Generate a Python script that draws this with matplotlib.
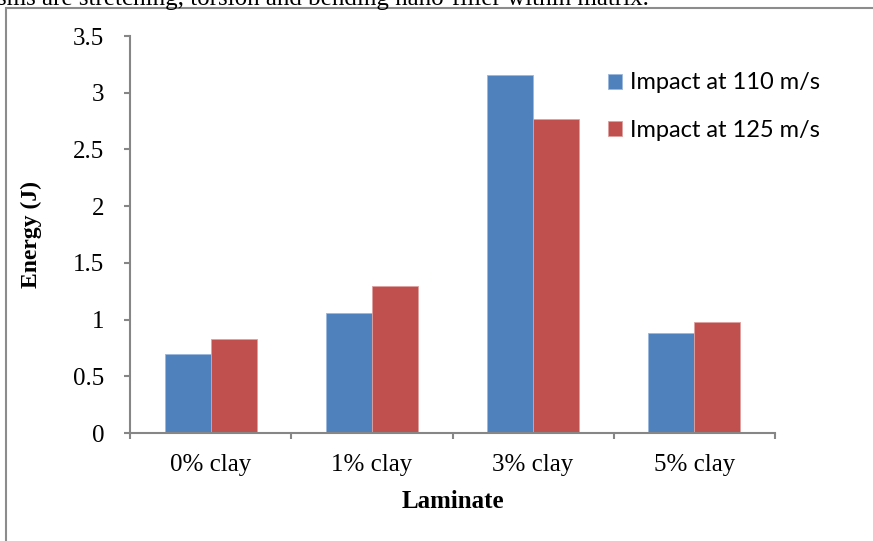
import numpy as np
import matplotlib.pyplot as plt
from matplotlib.patches import Rectangle

# Absorbed energy per laminate at the two impact velocities
laminates = ['0% clay', '1% clay', '3% clay', '5% clay']
energy_110 = [0.70, 1.06, 3.16, 0.88]
energy_125 = [0.83, 1.30, 2.77, 0.98]
y_ticks = [0, 0.5, 1, 1.5, 2, 2.5, 3, 3.5]
y_labels = ['0', '0.5', '1', '1.5', '2', '2.5', '3', '3.5']

serif = 'Liberation Serif'
axis_grey = '#868686'

fig = plt.figure(figsize=(8.73, 5.41), dpi=100)

# caption line above the chart box, cut off by the page edge
fig.text(-0.003, 1 - 5 / 541, 'sms are stretching, torsion and bending nano-filler within matrix.',
         family=serif, fontsize=18, va='baseline', ha='left')

# chart frame
fig.patches.append(Rectangle((6 / 873, -0.05), 1.1, 1 - 8 / 541 + 0.05,
                             transform=fig.transFigure, fill=False,
                             edgecolor='#8c8c8c', linewidth=1.5))

ax = fig.add_axes([130 / 873, 108 / 541, 645 / 873, 397 / 541])

x = np.arange(len(laminates))
w = 0.286
ax.bar(x - w / 2, energy_110, w, color='#4F81BD', edgecolor='#9bb7dc', linewidth=0.6,
       label='Impact at 110 m/s')
ax.bar(x + w / 2, energy_125, w, color='#C0504D', edgecolor='#e0a09e', linewidth=0.6,
       label='Impact at 125 m/s')

ax.set_xlim(-0.5, 3.5)
ax.set_ylim(0, 3.5)
ax.set_yticks(y_ticks)
ax.set_yticklabels(y_labels, family=serif, fontsize=18)
ax.set_xticks(x)
ax.set_xticklabels(laminates, family=serif, fontsize=18)
ax.tick_params(axis='x', length=0, pad=15)
ax.set_xticks(np.arange(-0.5, 4, 1), minor=True)
ax.tick_params(axis='x', which='minor', length=4.5, width=1.5, color=axis_grey)
ax.tick_params(axis='y', length=4.5, width=1.5, color=axis_grey, pad=14)

for side in ['top', 'right']:
    ax.spines[side].set_visible(False)
for side in ['left', 'bottom']:
    ax.spines[side].set_color(axis_grey)
    ax.spines[side].set_linewidth(1.5)

ax.set_xlabel('Laminate', family=serif, fontsize=18, fontweight='bold', labelpad=10)
ax.set_ylabel('Energy (J)', family=serif, fontsize=17, fontweight='bold', labelpad=22)

leg = ax.legend(loc='upper left', bbox_to_anchor=(0.708, 0.962), frameon=False,
                prop={'family': 'Lato', 'size': 17}, handlelength=0.6, handleheight=0.6,
                handletextpad=0.35, labelspacing=1.12)

fig.savefig('out.png', dpi=100)
